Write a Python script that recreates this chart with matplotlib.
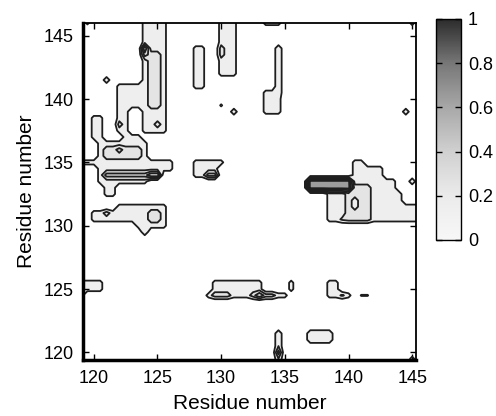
#!/usr/bin/env python

"""Residue contact map drawn as grey filled contours with a colour bar."""

import matplotlib
matplotlib.use('Agg')
import matplotlib.pyplot as plt
from matplotlib.colors import LinearSegmentedColormap, Normalize
from matplotlib.cm import ScalarMappable
import numpy as np

plt.rcParams['font.family'] = ['Liberation Sans', 'DejaVu Sans']

# residue grid the map is sampled on
grid_step = 0.5
grid_lo, grid_hi = 118.5, 146.5

# map regions: box in residue units and its value
reg_x0 = [124, 122, 122, 124, 124.5, 124, 124, 122, 125,          # upper-left blob
          121, 120,                                               # square, droplet
          120.5, 122.5, 124, 118.5, 121, 121, 121, 124.5, 122,    # 133-137 blob
          128, 130, 129,                                          # small blob
          128, 130, 130, 130, 131, 134.5, 133.5, 133.5, 144.5, 145,
          138.5, 138.5, 140.5, 141.5, 143, 145, 140, 139.5, 137,  # right blob + bar
          129.5, 129, 133.5, 135.5, 129.5, 132.5, 133,            # lower blob
          138.5, 139.5, 139.5, 141, 137, 134.5, 134.5, 145,
          120, 122, 123.5, 124, 124.5, 121,                       # 130 blob
          118.5, 118.5, 119.5]
reg_x1 = [125.5, 125.5, 122.5, 125.5, 125, 124, 124, 122, 125,
          121, 120.5,
          124, 123.5, 126, 120, 121.5, 123.5, 124.5, 125, 122,
          129.5, 130, 129.5,
          128.5, 131, 130, 130, 131, 134.5, 134.5, 134.5, 144.5, 145,
          146, 144, 141, 142.5, 143.5, 145, 141.5, 139.5, 140,
          133, 129, 135, 135.5, 130.5, 134, 133,
          139, 140, 139.5, 141.5, 138.5, 134.5, 134.5, 145,
          121.5, 125.5, 125.5, 124, 125, 121,
          120.5, 119, 119.5]
reg_y0 = [141.5, 139.5, 137.5, 137.5, 139.5, 143.5, 144, 138, 138,
          141.5, 137,
          133.5, 137, 134.5, 135, 132.5, 135.5, 134, 134, 136,
          134, 135, 134,
          141, 142, 143.5, 139.5, 139, 140.5, 139, 146, 139, 146,
          130.5, 131.5, 132.5, 132.5, 132.5, 133.5, 130.5, 130.5, 133,
          124.5, 124.5, 124.5, 125, 124.5, 124.5, 124.5,
          124.5, 124.5, 124.5, 124.5, 121, 119, 120, 119.5,
          130.5, 130.5, 130, 129.5, 130.5, 131,
          125, 124.5, 146]
reg_y1 = [146.5, 141, 139.5, 139.5, 143.5, 144, 144, 138, 138,
          141.5, 138.5,
          136.5, 137, 135, 135, 133, 136, 134, 134, 136,
          135, 135, 134,
          144, 146.5, 144, 139.5, 139, 144, 140.5, 146.5, 139, 146.5,
          131.5, 132.5, 135, 134.5, 133.5, 133.5, 133, 130.5, 133.5,
          125.5, 124.5, 124.5, 125.5, 124.5, 124.5, 124.5,
          125.5, 124.5, 124.5, 124.5, 121.5, 121.5, 120, 119.5,
          131, 131.5, 130, 129.5, 131, 131,
          125.5, 124.5, 146.5]
reg_val = [0.15, 0.15, 0.15, 0.15, 0.25, 0.35, 0.5, 0.25, 0.25,
           0.19, 0.15,
           0.15, 0.15, 0.15, 0.15, 0.15, 0.25, 0.35, 0.5, 0.35,
           0.15, 0.15, 0.35,
           0.15, 0.15, 0.25, 0.12, 0.19, 0.2, 0.15, 0.15, 0.19, 0.15,
           0.15, 0.15, 0.15, 0.15, 0.15, 0.19, 0.25, 0.22, 0.65,
           0.15, 0.15, 0.15, 0.15, 0.25, 0.25, 0.4,
           0.15, 0.15, 0.22, 0.11, 0.2, 0.2, 0.35, 0.15,
           0.15, 0.15, 0.15, 0.2, 0.25, 0.25,
           0.15, 0.15, 0.13]

# dips inside the right-hand blob (value replaces whatever is there)
hole_x = [140.5, 140.5]
hole_y = [131.5, 132]
hole_val = [0.15, 0.15]

cbar_ticks = [0, 0.2, 0.4, 0.6, 0.8, 1]
cbar_labels = ['0', '0.2', '0.4', '0.6', '0.8', '1']
axis_ticks = [120, 125, 130, 135, 140, 145]


def build_map():
    """Fill the residue grid from the region boxes."""
    res = np.arange(grid_lo, grid_hi + grid_step / 2, grid_step)
    xx, yy = np.meshgrid(res, res)
    zz = np.zeros_like(xx)
    eps = 1e-6
    for x0, x1, y0, y1, v in zip(reg_x0, reg_x1, reg_y0, reg_y1, reg_val):
        inside = ((xx >= x0 - eps) & (xx <= x1 + eps) &
                  (yy >= y0 - eps) & (yy <= y1 + eps))
        zz[inside] = np.maximum(zz[inside], v)
    for hx, hy, v in zip(hole_x, hole_y, hole_val):
        spot = (np.abs(xx - hx) < eps) & (np.abs(yy - hy) < eps)
        zz[spot] = v
    return xx, yy, zz


def main():
    cmap = LinearSegmentedColormap.from_list(
        'greys', [(0.0, '#f7f7f7'), (0.2, '#ebebeb'), (0.4, '#d0d0d0'),
                  (0.6, '#a8a8a8'), (0.8, '#777777'), (1.0, '#2c2c2c')])
    norm = Normalize(0, 1)

    fig = plt.figure(figsize=(4.96, 4.16), dpi=100)
    ax = fig.add_axes([0.1673, 0.1346, 0.6714, 0.8101])

    xx, yy, zz = build_map()
    fill_levels = np.arange(0.1, 1.05, 0.1)
    line_levels = [0.1, 0.2, 0.3, 0.4, 0.5, 0.6]
    ax.contourf(xx, yy, zz, levels=fill_levels, cmap=cmap, norm=norm)
    ax.contour(xx, yy, zz, levels=line_levels, colors='#1e1e1e',
               linewidths=1.3)

    ax.set_xlim(119.15, 145.3)
    ax.set_ylim(119.4, 146.0)
    ax.set_xticks(axis_ticks)
    ax.set_yticks(axis_ticks)
    ax.tick_params(direction='in', top=True, right=True, length=4,
                   width=1, labelsize=13, pad=7)
    for side in ['left', 'bottom']:
        ax.spines[side].set_linewidth(2.5)
    for side in ['top', 'right']:
        ax.spines[side].set_linewidth(1.3)
    ax.set_xlabel('Residue number', fontsize=15, labelpad=5)
    ax.set_ylabel('Residue number', fontsize=15, labelpad=5)

    cax = fig.add_axes([0.879, 0.4231, 0.0504, 0.5313])
    cbar = fig.colorbar(ScalarMappable(norm=norm, cmap=cmap), cax=cax)
    cbar.set_ticks(cbar_ticks)
    cbar.set_ticklabels(cbar_labels)
    cbar.outline.set_linewidth(1.0)
    cax.tick_params(direction='in', left=True, right=True, length=4,
                    width=1, labelsize=13, pad=5)

    fig.savefig('out.png', dpi=100)


if __name__ == '__main__':
    main()
